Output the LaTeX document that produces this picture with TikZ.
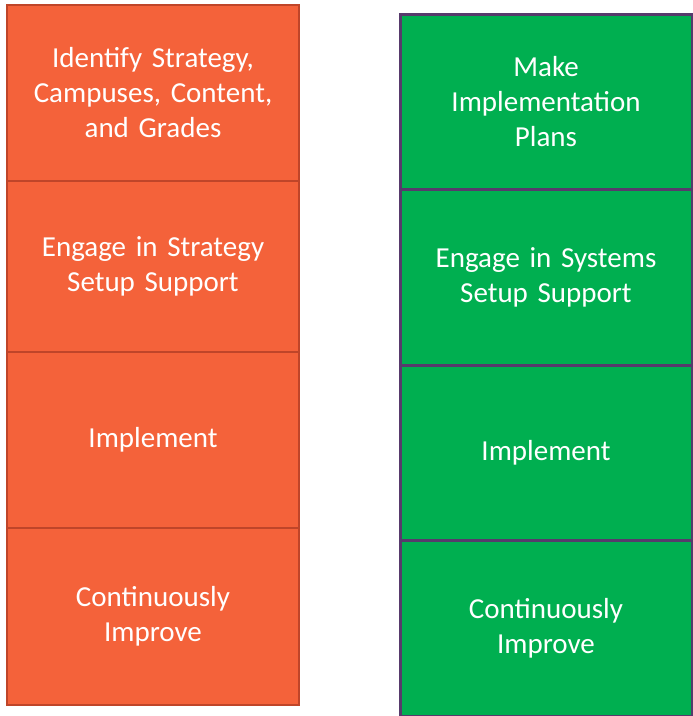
\documentclass[tikz,border=0pt]{standalone}
\usepackage{fontspec}
\setmainfont{Carlito}
\usepackage{tikz}
\usetikzlibrary{ positioning }
\definecolor{stepOrange}{HTML}{F4623A}
\definecolor{stepOrangeLine}{HTML}{BF4529}
\definecolor{stepGreen}{HTML}{00AF50}
\definecolor{stepGreenLine}{HTML}{573A6C}
\tikzset{
node distance=0pt, % boxes sit directly on each other
stagebox/.style={rectangle, outer sep=0pt, inner sep=0pt, minimum width=292pt,
  text width=270pt, align=center, text=white,
  font=\fontsize{29}{35}\selectfont}, % common look of every box
orangebox/.style={stagebox, fill=stepOrange, draw=stepOrangeLine, line width=2.6pt},
greenbox/.style={stagebox, fill=stepGreen, draw=stepGreenLine, line width=3pt},
}
\begin{document}
\begin{tikzpicture}[x=1pt, y=-1pt]
  \useasboundingbox (0,0) rectangle (693,716);
  % left column
  \node[orangebox, minimum height=176pt, anchor=north west] (o1) at (7,5)
    {Identify Strategy,\\Campuses, Content,\\and Grades};
  \node[orangebox, minimum height=171pt, below=of o1] (o2)
    {Engage in Strategy\\Setup Support};
  \node[orangebox, minimum height=176pt, below=of o2] (o3) {Implement};
  \node[orangebox, minimum height=177pt, below=of o3] (o4)
    {Continuously\\Improve};
  % right column
  \node[greenbox, minimum height=175pt, anchor=north west] (g1) at (400,14)
    {Make\\Implementation\\Plans};
  \node[greenbox, minimum height=176pt, below=of g1] (g2)
    {Engage in Systems\\Setup Support};
  \node[greenbox, minimum height=175pt, below=of g2] (g3) {Implement};
  \node[greenbox, minimum height=176pt, below=of g3] (g4)
    {Continuously\\Improve};
\end{tikzpicture}
\end{document}
